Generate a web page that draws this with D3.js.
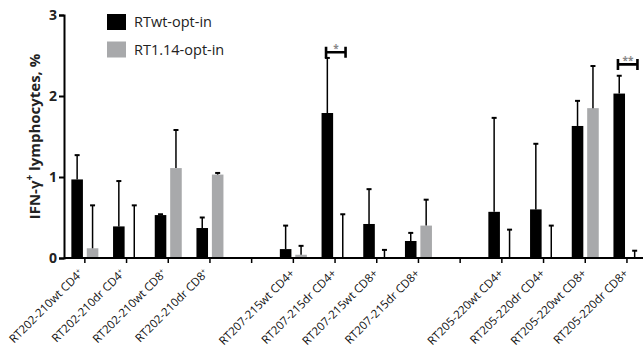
<!DOCTYPE html>
<html>
<head>
<meta charset="utf-8">
<script src="https://cdn.jsdelivr.net/npm/d3@7"></script>
<style>
  body { margin: 0; background: #fff; }
  svg { font-family: "Open Sans", sans-serif; }
</style>
</head>
<body>
<div id="chart"></div>
<script>
// Data
const groups = [
    ["RT202-210wt CD4", "RT202-210dr CD4", "RT202-210wt CD8", "RT202-210dr CD8"],
    ["RT207-215wt CD4+", "RT207-215dr CD4+", "RT207-215wt CD8+", "RT207-215dr CD8+"],
    ["RT205-220wt CD4+", "RT205-220dr CD4+", "RT205-220wt CD8+", "RT205-220dr CD8+"]
];
const seriesNames = ["RTwt-opt-in", "RT1.14-opt-in"];
const seriesColors = ["#000000", "#a8a9ab"];
const wtValues  = [0.97, 0.39, 0.53, 0.37, 0.11, 1.79, 0.42, 0.21, 0.57, 0.60, 1.63, 2.03];
const wtErrors  = [1.27, 0.95, 0.54, 0.50, 0.40, 2.47, 0.85, 0.31, 1.73, 1.41, 1.94, 2.25];
const mutValues = [0.12, 0, 1.11, 1.03, 0.04, 0, 0, 0.40, 0, 0, 1.85, 0];
const mutErrors = [0.65, 0.65, 1.58, 1.05, 0.15, 0.54, 0.10, 0.72, 0.35, 0.40, 2.37, 0.09];
const yTicks = [0, 1, 2, 3];
const sigMarks = [
    { cat: "RT207-215dr CD4+", y: 2.54, label: "*" },
    { cat: "RT205-220dr CD8+", y: 2.39, label: "**" }
];

const width = 643, height = 350;
const margin = { top: 15, left: 64, bottom: 92 };
const baseY = height - margin.bottom;

// domain with empty slots between the groups
const slots = [];
groups.forEach((g, i) => {
    if (i > 0) slots.push("gap" + i);
    g.forEach(c => slots.push(c));
});
const categories = groups.flat();
const rows = categories.map((c, i) => ({
    cat: c,
    sup: groups[0].includes(c),
    vals: [
        { s: 0, v: wtValues[i], e: wtErrors[i] },
        { s: 1, v: mutValues[i], e: mutErrors[i] }
    ]
}));

const svg = d3.select("#chart").append("svg")
    .attr("width", width)
    .attr("height", height);

const xScale = d3.scaleBand()
    .domain(slots)
    .range([margin.left, margin.left + slots.length * 41.7])
    .padding(0);

const xInner = d3.scaleBand()
    .domain([0, 1])
    .range([-13.5, 13.5])
    .paddingInner(0.25);

const yScale = d3.scaleLinear()
    .domain([0, 3])
    .range([baseY, margin.top]);

const center = c => xScale(c) + xScale.bandwidth() / 2;

// bars
const catG = svg.append("g").selectAll("g")
    .data(rows)
    .join("g")
    .attr("transform", d => `translate(${center(d.cat)},0)`);

catG.selectAll("rect")
    .data(d => d.vals.filter(v => v.v > 0))
    .join("rect")
    .attr("x", d => xInner(d.s))
    .attr("width", xInner.bandwidth())
    .attr("y", d => yScale(d.v))
    .attr("height", d => baseY - yScale(d.v))
    .attr("fill", d => seriesColors[d.s]);

// error bars
const errG = catG.selectAll("g.err")
    .data(d => d.vals)
    .join("g")
    .attr("class", "err")
    .attr("transform", d => `translate(${xInner(d.s) + xInner.bandwidth() / 2},0)`);

errG.append("line")
    .attr("y1", d => yScale(d.v))
    .attr("y2", d => yScale(d.e))
    .attr("stroke", "#000")
    .attr("stroke-width", 1.5);

errG.append("line")
    .attr("x1", -2.5).attr("x2", 2.5)
    .attr("y1", d => yScale(d.e))
    .attr("y2", d => yScale(d.e))
    .attr("stroke", "#000")
    .attr("stroke-width", 2);

// axes
const xAxis = d3.axisBottom(xScale).tickSize(5).tickFormat("");
const xAxisGroup = svg.append("g")
    .attr("transform", `translate(0,${baseY})`)
    .call(xAxis);
xAxisGroup.select(".domain").attr("d", `M${margin.left},0H${width}`).attr("stroke-width", 2);
xAxisGroup.selectAll(".tick line").attr("stroke-width", 1.5);

const labels = svg.append("g").selectAll("text")
    .data(rows)
    .join("text")
    .attr("transform", d => `translate(${center(d.cat) + (d.sup ? -1 : 2)},${baseY + 16}) rotate(-45)`)
    .attr("text-anchor", "end")
    .attr("font-size", 11.5)
    .attr("fill", "#111");
labels.append("tspan").text(d => d.cat);
labels.filter(d => d.sup).append("tspan")
    .attr("font-size", 7)
    .attr("baseline-shift", "super")
    .text("+");

const yAxis = d3.axisLeft(yScale).tickValues(yTicks).tickSize(5).tickFormat(d3.format("d"));
const yAxisGroup = svg.append("g")
    .attr("transform", `translate(${margin.left},0)`)
    .call(yAxis);
yAxisGroup.select(".domain").attr("stroke-width", 2);
yAxisGroup.selectAll(".tick line").attr("stroke-width", 2);
yAxisGroup.selectAll(".tick text")
    .attr("font-size", 14)
    .attr("font-weight", "bold")
    .attr("font-family", "Open Sans, sans-serif")
    .attr("fill", "#222")
    .attr("x", -7);

svg.append("text")
    .attr("transform", `translate(40,${(baseY + margin.top) / 2}) rotate(-90)`)
    .attr("text-anchor", "middle")
    .attr("font-size", 15)
    .attr("font-weight", "bold")
    .attr("fill", "#222")
    .html('IFN-γ<tspan font-size="10" baseline-shift="super">+</tspan> lymphocytes, %');

// significance brackets
const sigG = svg.append("g").selectAll("g")
    .data(sigMarks)
    .join("g")
    .attr("transform", d => `translate(${center(d.cat)},${yScale(d.y)})`);
sigG.append("path")
    .attr("d", "M-9,-5.5V5.5M-9,0H10.5M10.5,-5.5V5.5")
    .attr("fill", "none")
    .attr("stroke", "#000")
    .attr("stroke-width", 2.6);
sigG.append("text")
    .attr("x", 1)
    .attr("y", 0)
    .attr("text-anchor", "middle")
    .attr("font-size", 10)
    .attr("font-weight", "bold")
    .attr("fill", "#888")
    .text(d => d.label);

// legend
const legend = svg.append("g").selectAll("g")
    .data(seriesNames)
    .join("g")
    .attr("transform", (d, i) => `translate(107,${14 + i * 27.5})`);
legend.append("rect")
    .attr("width", 19)
    .attr("height", 16)
    .attr("fill", (d, i) => seriesColors[i]);
legend.append("text")
    .attr("x", 27)
    .attr("y", 13)
    .attr("font-size", 14.5)
    .attr("fill", "#222")
    .text(d => d);
</script>
</body>
</html>
